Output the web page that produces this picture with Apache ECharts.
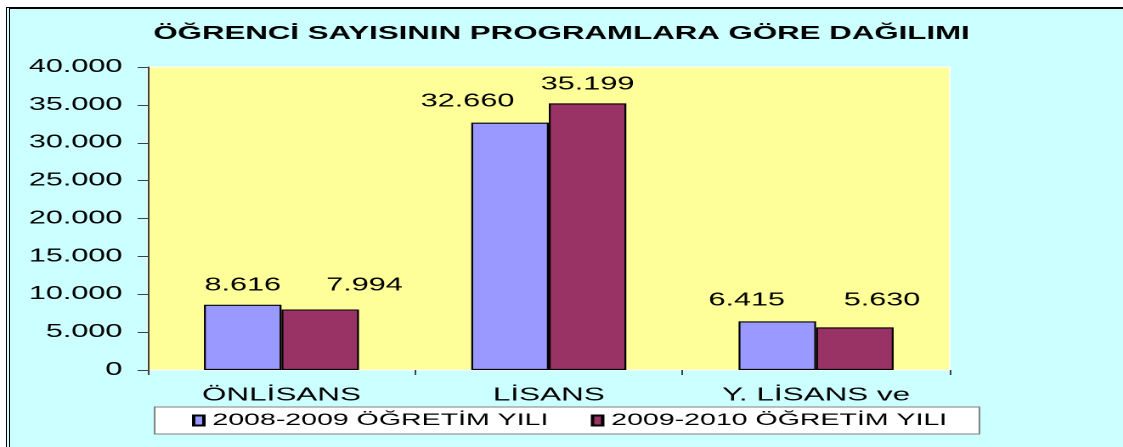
<!DOCTYPE html>
<html>
<head>
<meta charset="utf-8">
<script src="https://cdn.jsdelivr.net/npm/echarts@6/dist/echarts.min.js"></script>
<style>
  html, body { margin: 0; padding: 0; background: #fff; overflow: hidden; }
  /* çerçeve: üstte tek, solda çift çizgi */
  #frame {
    position: absolute; left: 6px; top: 7px; width: 1200px; height: 500px;
    border-top: 2px solid #000; border-left: 4px double #000;
    background: #CCFFFF;
  }
  /* grafik dar çizilip yatayda esnetiliyor (orijinal görüntü gibi) */
  #chart {
    position: absolute; left: 0; top: 0; width: 661px; height: 447px;
    transform: scaleX(1.699); transform-origin: 0 0;
  }
</style>
</head>
<body>
<div id="frame"></div>
<div id="chart"></div>
<script>
// kategoriler ve seriler
const categories = ['ÖNLİSANS', 'LİSANS', 'Y. LİSANS ve'];
const seriesNames = ['2008-2009 ÖĞRETİM YILI', '2009-2010 ÖĞRETİM YILI'];
const values0809 = [8616, 32660, 6415];
const values0910 = [7994, 35199, 5630];

// y ekseni
const yMin = 0;
const yMax = 40000;
const yStep = 5000;

// etiketlerin kayması (Excel çakışan etiketleri yana itmiş)
const shift0809 = [[0, 0], [-25, -2], [-18, -2]];
const shift0910 = [[26, -5], [0, 0], [16, -8]];

const fmt = v => String(v).replace(/\B(?=(\d{3})+(?!\d))/g, '.');

const buildData = (values, shifts) =>
  values.map((v, i) => ({ value: v, label: { offset: shifts[i] } }));

const myChart = echarts.init(document.getElementById('chart'), null, { devicePixelRatio: 2 });

const barLabel = {
  show: true,
  position: 'top',
  distance: 10,
  color: '#000',
  fontFamily: 'Liberation Sans',
  fontSize: 18,
  formatter: p => fmt(p.value),
};

myChart.setOption({
  backgroundColor: 'transparent',
  animation: false,
  title: {
    text: 'ÖĞRENCİ SAYISININ PROGRAMLARA GÖRE DAĞILIMI',
    left: 'center',
    top: 20,
    textStyle: {
      fontFamily: 'Liberation Sans',
      fontSize: 18.4,
      fontWeight: 'bold',
      color: '#000',
    },
  },
  legend: {
    data: seriesNames,
    left: 91,
    top: 407,
    orient: 'horizontal',
    padding: [5, 19, 5, 22],
    itemGap: 25,
    itemWidth: 6,
    itemHeight: 10,
    backgroundColor: '#fff',
    borderColor: '#808080',
    borderWidth: 1,
    borderRadius: 0,
    icon: 'rect',
    textStyle: {
      fontFamily: 'Liberation Sans',
      fontSize: 16.8,
      color: '#000',
    },
  },
  grid: {
    left: 87,
    right: 102,
    top: 67,
    bottom: 77,
    show: true,
    backgroundColor: '#FFFF99',
    borderColor: '#ffffff',
    borderWidth: 1,
  },
  xAxis: {
    type: 'category',
    data: categories,
    axisLine: { show: false },
    axisTick: { show: true, length: 5, lineStyle: { color: '#404040' } },
    axisLabel: {
      margin: 16,
      color: '#000',
      fontFamily: 'Liberation Sans',
      fontSize: 18.5,
    },
  },
  yAxis: {
    type: 'value',
    min: yMin,
    max: yMax,
    interval: yStep,
    axisLine: { show: true, lineStyle: { color: '#404040', width: 1 } },
    axisTick: { show: true, length: 6, lineStyle: { color: '#404040' } },
    splitLine: { show: false },
    axisLabel: {
      margin: 15,
      color: '#000',
      fontFamily: 'Liberation Sans',
      fontSize: 18,
      formatter: v => fmt(v),
    },
  },
  series: [
    {
      name: seriesNames[0],
      type: 'bar',
      barGap: '0%',
      barCategoryGap: '42%',
      itemStyle: { color: '#9999FF', borderColor: '#000', borderWidth: 1.1 },
      label: barLabel,
      data: buildData(values0809, shift0809),
    },
    {
      name: seriesNames[1],
      type: 'bar',
      barGap: '0%',
      barCategoryGap: '42%',
      itemStyle: { color: '#993366', borderColor: '#000', borderWidth: 1.1 },
      label: barLabel,
      data: buildData(values0910, shift0910),
    },
  ],
});
</script>
</body>
</html>
